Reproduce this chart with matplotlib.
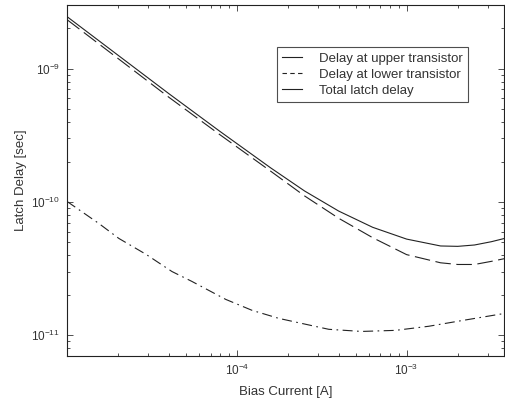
import matplotlib
matplotlib.use('Agg')
import matplotlib.pyplot as plt
from matplotlib.lines import Line2D

plt.rcParams['font.family'] = ['Liberation Sans', 'DejaVu Sans']
plt.rcParams['mathtext.fontset'] = 'custom'
plt.rcParams['mathtext.rm'] = 'Liberation Sans'
plt.rcParams['axes.unicode_minus'] = False

# values
i_total = [1.0e-5, 2.0e-5, 3.98e-5, 7.94e-5, 1.585e-4, 2.51e-4, 3.98e-4, 6.31e-4,
           1.0e-3, 1.585e-3, 2.0e-3, 2.51e-3, 3.16e-3, 3.77e-3]
d_total = [2.455e-9, 1.259e-9, 6.49e-10, 3.39e-10, 1.80e-10, 1.208e-10, 8.55e-11, 6.46e-11,
           5.27e-11, 4.68e-11, 4.65e-11, 4.76e-11, 5.04e-11, 5.33e-11]

i_dash = [1.0e-5, 2.0e-5, 3.98e-5, 7.94e-5, 1.585e-4, 2.51e-4, 3.98e-4, 6.31e-4,
          1.0e-3, 1.585e-3, 2.0e-3, 2.51e-3, 3.16e-3, 3.77e-3]
d_dash = [2.33e-9, 1.19e-9, 6.10e-10, 3.20e-10, 1.70e-10, 1.109e-10, 7.55e-11, 5.40e-11,
          4.03e-11, 3.50e-11, 3.40e-11, 3.40e-11, 3.59e-11, 3.76e-11]

i_dd = [1.0e-5, 1.54e-5, 2.02e-5, 2.92e-5, 4.15e-5, 5.43e-5, 8.61e-5, 1.23e-4, 1.77e-4,
        2.55e-4, 3.48e-4, 5.43e-4, 8.6e-4, 1.35e-3, 2.11e-3, 3.77e-3]
d_dd = [1.01e-10, 6.9e-11, 5.33e-11, 4.05e-11, 3.01e-11, 2.54e-11, 1.86e-11, 1.54e-11,
        1.34e-11, 1.21e-11, 1.11e-11, 1.07e-11, 1.09e-11, 1.17e-11, 1.29e-11, 1.46e-11]

legend_labels = ['Delay at upper transistor', 'Delay at lower transistor', 'Total latch delay']

fig = plt.figure(figsize=(5.05, 3.98), dpi=100)
ax = fig.add_axes([0.1327, 0.1055, 0.8663, 0.8819])

lc = '#222222'
ax.loglog(i_total, d_total, color=lc, lw=0.8)
ax.loglog(i_dash, d_dash, color=lc, lw=0.8, dashes=(14, 5))
ax.loglog(i_dd, d_dd, color=lc, lw=0.8, dashes=(9, 4, 1.5, 4))

ax.set_xlim(1.0e-5, 3.77e-3)
ax.set_ylim(7e-12, 3e-9)
ax.set_xticks([1e-4, 1e-3])
ax.set_yticks([1e-11, 1e-10, 1e-9])
ax.tick_params(which='both', direction='in', top=True, right=True, labelsize=8.5,
               colors='#333333', width=0.6)
ax.tick_params(which='major', length=4, pad=5)
ax.tick_params(which='minor', length=2.5)
for s in ax.spines.values():
    s.set_linewidth(0.8)
    s.set_color('#222222')

ax.set_xlabel('Bias Current [A]', fontsize=9.5, color='#333333', labelpad=6)
ax.set_ylabel('Latch Delay [sec]', fontsize=9.5, color='#333333', labelpad=3)

handles = [Line2D([], [], color=lc, lw=0.8),
           Line2D([], [], color=lc, lw=0.8, dashes=(4, 3)),
           Line2D([], [], color=lc, lw=0.8)]
leg = ax.legend(handles, legend_labels, loc='upper left', bbox_to_anchor=(0.479, 0.880),
                fontsize=9.5, frameon=True, fancybox=False, handlelength=1.5,
                borderpad=0.4, labelspacing=0.28, handletextpad=1.3, borderaxespad=0)
leg.get_frame().set_edgecolor('#222222')
leg.get_frame().set_linewidth(0.8)
for t in leg.get_texts():
    t.set_color('#333333')

fig.savefig('out.png', dpi=100)
